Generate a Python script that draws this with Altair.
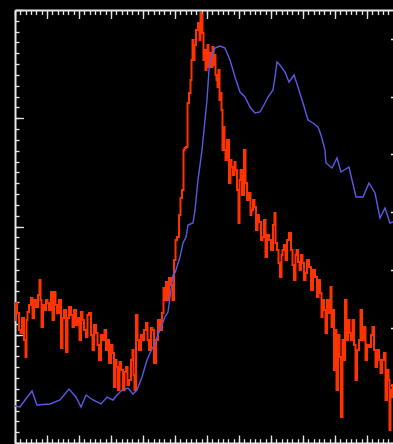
import altair as alt
import pandas as pd

# Spectrum (red): detector channel vs. counts
red_channel = [0, 1, 3, 5, 6, 8, 10, 11, 12, 13, 15, 17, 18, 20, 22, 24, 25, 26, 27, 29,
               30, 32, 33, 35, 37, 38, 40, 41, 43, 45, 47, 48, 50, 52, 53, 55, 57, 58, 60, 62,
               64, 65, 67, 68, 70, 72, 73, 75, 77, 78, 80, 82, 83, 85, 87, 89, 90, 92, 93, 95,
               97, 98, 100, 101, 102, 104, 105, 107, 109, 110, 112, 113, 115, 117, 118, 119, 120, 122, 123, 125,
               127, 128, 130, 132, 133, 135, 137, 138, 140, 142, 144, 146, 148, 149, 150, 152, 153, 155, 157, 158,
               160, 161, 163, 165, 166, 168, 169, 170, 172, 173, 175, 176, 177, 178, 179, 180, 182, 184, 185, 186,
               187, 188, 189, 190, 191, 192, 193, 194, 195, 196, 197, 198, 199, 200, 201, 202, 203, 204, 205, 206,
               207, 208, 209, 210, 211, 213, 215, 216, 217, 219, 220, 221, 223, 224, 225, 226, 228, 230, 231, 233,
               235, 236, 237, 239, 240, 242, 243, 245, 247, 248, 250, 251, 253, 255, 257, 259, 260, 261, 263, 264,
               266, 267, 268, 270, 271, 273, 275, 277, 278, 280, 281, 282, 284, 285, 287, 288, 290, 291, 293, 295,
               297, 299, 301, 303, 304, 306, 307, 308, 310, 311, 313, 315, 316, 317, 318, 320, 321, 322, 324, 325,
               327, 328, 329, 331, 332, 334, 335, 337, 338, 340, 341, 343, 345, 346, 348, 350, 351, 353, 355, 357,
               358, 360, 361, 363, 365, 366, 368, 370, 371, 373, 374, 375, 376, 377, 378]
red_counts = [123, 140, 130, 113, 110, 125, 103, 86, 123, 131, 138, 145, 125, 143, 136, 148, 163, 143, 116, 138,
              133, 143, 140, 133, 151, 123, 151, 138, 130, 143, 95, 125, 133, 91, 125, 136, 128, 116, 133, 118,
              125, 103, 131, 123, 113, 106, 128, 130, 108, 93, 118, 110, 98, 83, 108, 103, 113, 93, 103, 80,
              98, 90, 56, 83, 76, 53, 81, 73, 53, 71, 76, 58, 63, 83, 93, 68, 53, 128, 103, 93,
              108, 103, 113, 120, 103, 93, 115, 113, 80, 103, 123, 113, 130, 155, 143, 161, 143, 165, 158, 143,
              183, 203, 206, 228, 245, 253, 293, 295, 296, 340, 350, 363, 383, 403, 383, 398, 413, 420, 403, 430,
              428, 410, 383, 393, 373, 380, 398, 376, 390, 383, 376, 396, 378, 388, 368, 363, 356, 373, 343, 350,
              333, 293, 316, 293, 283, 303, 260, 283, 276, 268, 281, 273, 253, 220, 263, 273, 248, 293, 260, 243,
              250, 228, 233, 243, 236, 213, 228, 221, 203, 206, 223, 186, 208, 203, 193, 218, 230, 200, 193, 180,
              166, 188, 193, 198, 183, 203, 210, 193, 178, 163, 188, 193, 181, 173, 188, 180, 163, 170, 183, 176,
              153, 173, 166, 146, 163, 150, 126, 143, 133, 110, 143, 130, 156, 116, 133, 73, 113, 53, 108, 86,
              26, 103, 83, 143, 103, 123, 110, 103, 123, 98, 63, 93, 103, 133, 103, 116, 83, 98, 96, 108,
              116, 93, 76, 93, 83, 70, 83, 90, 43, 73, 63, 13, 53, 46, 58]

# Reference trace (blue): same channel axis, read against the right-hand scale
blue_channel = [0, 5, 10, 17, 22, 35, 45, 54, 61, 66, 71, 78, 86, 92, 98, 102, 107, 113, 118, 122,
                127, 132, 135, 138, 143, 150, 153, 158, 160, 165, 168, 171, 173, 178, 180, 183, 185, 187, 188, 190,
                192, 194, 196, 200, 205, 210, 215, 220, 225, 230, 235, 240, 245, 250, 253, 258, 260, 262, 265, 270,
                274, 279, 283, 288, 293, 298, 303, 306, 310, 311, 317, 322, 326, 334, 341, 348, 354, 360, 365, 370,
                375, 378]
blue_counts = [37, 36, 43, 52, 38, 39, 43, 54, 46, 36, 48, 43, 39, 46, 43, 48, 53, 55, 49, 53,
               66, 83, 90, 96, 108, 126, 131, 168, 170, 186, 200, 206, 218, 220, 233, 263, 278, 293, 303, 323,
               343, 373, 385, 395, 397, 395, 383, 366, 351, 346, 336, 330, 331, 340, 346, 353, 366, 381, 378, 371,
               361, 368, 356, 340, 323, 320, 316, 308, 293, 280, 275, 285, 271, 276, 246, 246, 260, 250, 225, 235,
               220, 221]

W, H = 378, 433
X_MAX, Y_MAX = 378, 433
RED = "#ff3300"
BLUE = "#5a5ae6"
FRAME = "#e6e6e6"

x_major = [32 * i for i in range(12)]
x_minor = [round(i * 16 / 3, 3) for i in range(71)]
y_major = [round(i * Y_MAX / 4, 3) for i in range(5)]
y_minor = [round(i * Y_MAX / 40, 3) for i in range(41)]
y_right = [round(i * Y_MAX / 7.5, 3) for i in range(8)]

red_df = pd.DataFrame({"channel": red_channel, "counts": red_counts})
blue_df = pd.DataFrame({"channel": blue_channel, "counts": blue_counts})

xs = alt.Scale(domain=[0, X_MAX], nice=False, zero=False)
ys = alt.Scale(domain=[0, Y_MAX], nice=False, zero=False)


def frame_axis(orient, offset, values, size, domain):
    """Tick-only axis; ticks point into the plot frame."""
    kw = dict(orient=orient, offset=offset, values=values, tickSize=size,
              labels=False, title=None, grid=False, tickColor=FRAME,
              tickWidth=1.3, domain=domain)
    if domain:
        kw.update(domainColor=FRAME, domainWidth=2)
    return alt.Axis(**kw)


red = alt.Chart(red_df).mark_line(
    color=RED, strokeWidth=2, interpolate="step", clip=True
).encode(
    x=alt.X("channel:Q", scale=xs, axis=frame_axis("bottom", -H, x_major, 8.5, True)),
    y=alt.Y("counts:Q", scale=ys, axis=frame_axis("right", -W, y_major, 8.5, True)),
)
red_minor = alt.Chart(red_df).mark_line(strokeOpacity=0).encode(
    x=alt.X("channel:Q", scale=xs, axis=frame_axis("bottom", -H, x_minor, 4.5, False)),
    y=alt.Y("counts:Q", scale=ys, axis=frame_axis("right", -W, y_minor, 4, False)),
)
blue = alt.Chart(blue_df).mark_line(color=BLUE, strokeWidth=1.4, clip=True).encode(
    x=alt.X("channel:Q", scale=xs, axis=frame_axis("top", -H, x_major, 8, True)),
    y=alt.Y("counts:Q", scale=ys, axis=frame_axis("left", -(W + 6), y_right, 8.5, True)),
)
blue_minor = alt.Chart(blue_df).mark_line(strokeOpacity=0).encode(
    x=alt.X("channel:Q", scale=xs, axis=frame_axis("top", -H, x_minor, 4.3, False)),
    y=alt.Y("counts:Q", scale=ys, axis=None),
)

chart = (
    alt.layer(red, red_minor, blue, blue_minor)
    .resolve_axis(x="independent", y="independent")
    .properties(
        width=W,
        height=H,
        background="black",
        padding={"left": 15, "top": 10, "right": 0, "bottom": 1},
        autosize=alt.AutoSizeParams(type="none"),
    )
    .configure_view(stroke=None)
)

chart.save("out.html", embed_options={"renderer": "svg", "actions": False})
